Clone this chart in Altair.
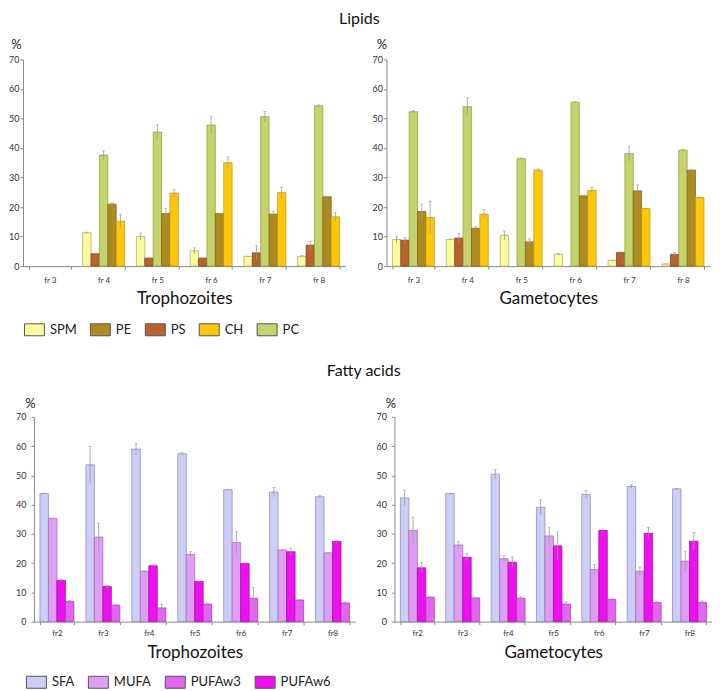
import altair as alt
import pandas as pd

# ---------------- Lipids ----------------
lip_fracs = ["fr 3", "fr 4", "fr 5", "fr 6", "fr 7", "fr 8"]
lip_bar_order = ["SPM", "PS", "PC", "PE", "CH"]
lip_legend_order = ["SPM", "PE", "PS", "CH", "PC"]
lip_fill = ["#fdfb9e", "#ad8b22", "#b8622e", "#fdc80c", "#c4d46a"]
lip_line = ["#a9a55a", "#7a6116", "#7e4018", "#c09400", "#8c9a3c"]

# Trophozoites (values, error)
tro_SPM = [0, 11.3, 10.0, 5.2, 3.3, 3.3]
tro_PS = [0, 4.2, 2.7, 2.7, 4.5, 7.1]
tro_PC = [0, 37.6, 45.4, 47.8, 50.6, 54.3]
tro_PE = [0, 21.0, 17.8, 17.8, 17.6, 23.5]
tro_CH = [0, 15.2, 24.7, 35.0, 24.9, 16.7]
tro_SPM_err = [0, 0.2, 1.2, 1.0, 0.1, 0.3]
tro_PS_err = [0, 0.1, 0.1, 0.1, 2.5, 1.3]
tro_PC_err = [0, 1.5, 2.5, 3.0, 1.8, 0.3]
tro_PE_err = [0, 0.5, 1.8, 0.1, 1.0, 0.1]
tro_CH_err = [0, 2.3, 1.2, 2.0, 1.8, 1.5]

# Gametocytes
gam_SPM = [9.0, 9.0, 10.4, 4.0, 1.9, 0.7]
gam_PS = [8.8, 9.5, 0, 0, 4.6, 4.0]
gam_PC = [52.3, 54.0, 36.4, 55.5, 38.1, 39.3]
gam_PE = [18.5, 12.8, 8.2, 23.8, 25.5, 32.5]
gam_CH = [16.5, 17.6, 32.5, 25.7, 19.5, 23.2]
gam_SPM_err = [1.0, 0.2, 1.5, 0.2, 0.1, 0.1]
gam_PS_err = [0.8, 1.5, 0, 0, 0.2, 0.6]
gam_PC_err = [0.4, 3.0, 0.2, 0.2, 2.5, 0.3]
gam_PE_err = [2.5, 0.5, 1.0, 0.2, 2.0, 0.1]
gam_CH_err = [5.5, 1.5, 0.4, 1.0, 0.1, 0.1]

# ---------------- Fatty acids ----------------
fa_fracs = ["fr2", "fr3", "fr4", "fr5", "fr6", "fr7", "fr8"]
fa_bar_order = ["SFA", "MUFA", "PUFAw6", "PUFAw3"]
fa_legend_order = ["SFA", "MUFA", "PUFAw3", "PUFAw6"]
fa_fill = ["#cdcdf7", "#dd9ff3", "#e366f0", "#ee10ee"]
fa_line = ["#8585b5", "#a264b5", "#a535b0", "#a000a0"]

tro_SFA = [43.8, 53.6, 59.0, 57.4, 45.1, 44.3, 42.7]
tro_MUFA = [35.3, 28.9, 17.2, 23.0, 27.1, 24.5, 23.5]
tro_W6 = [14.1, 12.0, 19.1, 13.7, 19.9, 23.9, 27.4]
tro_W3 = [6.9, 5.6, 4.7, 6.0, 8.0, 7.4, 6.4]
tro_SFA_err = [0.1, 6.3, 2.0, 0.5, 0.1, 1.6, 0.4]
tro_MUFA_err = [0.1, 4.8, 0.3, 1.0, 3.7, 0.2, 0.1]
tro_W6_err = [0.3, 0.4, 0.2, 0.1, 0.1, 1.2, 0.4]
tro_W3_err = [0.4, 0.2, 1.3, 0.1, 3.6, 0.1, 0.3]

gam_SFA = [42.3, 43.8, 50.4, 39.1, 43.5, 46.2, 45.4]
gam_MUFA = [31.2, 26.2, 21.5, 29.3, 17.8, 17.2, 20.7]
gam_W6 = [18.4, 22.0, 20.3, 25.9, 31.2, 30.2, 27.5]
gam_W3 = [8.3, 8.1, 8.0, 6.0, 7.6, 6.5, 6.6]
gam_SFA_err = [2.7, 0.1, 1.6, 2.5, 1.3, 0.6, 0.2]
gam_MUFA_err = [4.5, 1.2, 1.0, 3.0, 1.7, 1.5, 3.4]
gam_W6_err = [1.8, 1.3, 1.8, 4.8, 0.2, 2.0, 3.0]
gam_W3_err = [0.3, 0.2, 0.5, 0.7, 0.2, 0.3, 0.5]

y_ticks = [0, 10, 20, 30, 40, 50, 60, 70]

FONT = "Lato"


def make_df(fracs, series):
    rows = []
    for name, vals, errs in series:
        for f, v, e in zip(fracs, vals, errs):
            rows.append({"frac": f, "cls": name, "val": v,
                         "lo": max(v - e, 0), "hi": v + e, "err": e})
    return pd.DataFrame(rows)


def panel(df, fracs, bar_order, legend_order, fills, lines, w, h, xtitle,
          pct_x, pct_y, lab_pad, xlab_pad, xtitle_pad, legend_pos=None,
          pad_inner=0.22, shift=0):
    # 'shift' lets the plotting range start left of the view origin
    base = alt.Chart(df).properties(width=w, height=h)
    xaxis = alt.Axis(title=xtitle, tickBand="extent", labelAngle=0,
                     domainColor="#8a8a8a", tickColor="#8a8a8a",
                     tickSize=3, labelFontSize=8, labelColor="#333",
                     labelPadding=xlab_pad, titleFontSize=17,
                     titleFontWeight="normal", titleColor="#111",
                     titlePadding=xtitle_pad, labelFont=FONT, titleFont=FONT)
    if shift:
        xscale = alt.Scale(domain=fracs, paddingInner=pad_inner,
                           paddingOuter=pad_inner / 2, range=[-shift, w])
    else:
        xscale = alt.Scale(domain=fracs, paddingInner=pad_inner,
                           paddingOuter=pad_inner / 2)
    xenc = alt.X("frac:N", sort=fracs, scale=xscale, axis=xaxis)
    xoff = alt.XOffset("cls:N", scale=alt.Scale(domain=bar_order))
    yaxis = alt.Axis(values=y_ticks, grid=False, labelOverlap=False,
                     labelFlush=False, offset=shift,
                     domainColor="#8a8a8a", tickColor="#8a8a8a",
                     tickSize=3, labelFontSize=9, labelColor="#333",
                     labelPadding=lab_pad, title="%", titleAngle=0,
                     titleX=pct_x, titleY=pct_y, titleAlign="center",
                     titleBaseline="middle", titleFontSize=13,
                     titleFontWeight="normal", titleColor="#222",
                     labelFont=FONT, titleFont=FONT)
    yscale = alt.Scale(domain=[0, 70], nice=False)
    if legend_pos is None:
        leg = None
    else:
        leg = alt.Legend(title=None, orient="none", legendX=legend_pos[0],
                         legendY=legend_pos[1], direction="horizontal",
                         columns=len(legend_order), padding=0,
                         symbolType="M-1,-0.6L1,-0.6L1,0.6L-1,0.6Z",
                         symbolSize=400, symbolStrokeColor="#555",
                         symbolStrokeWidth=1, symbolOpacity=1,
                         labelFontSize=13, labelColor="#222", labelFont=FONT,
                         labelOffset=5, columnPadding=11)
    bars = base.transform_filter("datum.val > 0").mark_bar(strokeWidth=0.7).encode(
        x=xenc, xOffset=xoff,
        y=alt.Y("val:Q", scale=yscale, axis=yaxis),
        color=alt.Color("cls:N", scale=alt.Scale(domain=legend_order, range=fills),
                        legend=leg),
        stroke=alt.Stroke("cls:N", scale=alt.Scale(domain=legend_order, range=lines),
                          legend=None),
    )
    errs = base.transform_filter("datum.err > 0").mark_rule(
        color="#9a9a9a", strokeWidth=0.8).encode(
        x=xenc, xOffset=xoff,
        y=alt.Y("lo:Q", scale=yscale, axis=yaxis), y2="hi:Q")
    caps = base.transform_filter("datum.err > 0").mark_tick(
        color="#9a9a9a", thickness=0.8, size=3).encode(
        x=xenc, xOffset=xoff, y=alt.Y("hi:Q", scale=yscale, axis=yaxis))
    return alt.layer(bars, errs, caps)


lip_t = make_df(lip_fracs, [("SPM", tro_SPM, tro_SPM_err), ("PS", tro_PS, tro_PS_err),
                            ("PC", tro_PC, tro_PC_err), ("PE", tro_PE, tro_PE_err),
                            ("CH", tro_CH, tro_CH_err)])
lip_g = make_df(lip_fracs, [("SPM", gam_SPM, gam_SPM_err), ("PS", gam_PS, gam_PS_err),
                            ("PC", gam_PC, gam_PC_err), ("PE", gam_PE, gam_PE_err),
                            ("CH", gam_CH, gam_CH_err)])
fa_t = make_df(fa_fracs, [("SFA", tro_SFA, tro_SFA_err), ("MUFA", tro_MUFA, tro_MUFA_err),
                          ("PUFAw6", tro_W6, tro_W6_err), ("PUFAw3", tro_W3, tro_W3_err)])
fa_g = make_df(fa_fracs, [("SFA", gam_SFA, gam_SFA_err), ("MUFA", gam_MUFA, gam_MUFA_err),
                          ("PUFAw6", gam_W6, gam_W6_err), ("PUFAw3", gam_W3, gam_W3_err)])

p1 = panel(lip_t, lip_fracs, lip_bar_order, lip_legend_order, lip_fill, lip_line,
           312, 207, "Trophozoites", -7, -15, 1, 7, 6, legend_pos=(-10, 260), shift=11)
p2 = panel(lip_g, lip_fracs, lip_bar_order, lip_legend_order, lip_fill, lip_line,
           324, 207, "Gametocytes", -5, -15, 1, 7, 6)
p3 = panel(fa_t, fa_fracs, fa_bar_order, fa_legend_order, fa_fill, fa_line,
           322, 205, "Trophozoites", -4, -13, 5, 5, 7, legend_pos=(-8, 255),
           pad_inner=0.26)
p4 = panel(fa_g, fa_fracs, fa_bar_order, fa_legend_order, fa_fill, fa_line,
           318, 205, "Gametocytes", -4, -13, 5, 5, 7, pad_inner=0.26)

row1 = alt.hconcat(p1, p2, spacing=15, title=alt.TitleParams(
    "Lipids", anchor="middle", fontSize=16, fontWeight="normal", font=FONT,
    color="#111", offset=11)).resolve_legend(color="independent")
row2 = alt.hconcat(p3, p4, spacing=20, title=alt.TitleParams(
    "Fatty acids", anchor="middle", fontSize=16, fontWeight="normal", font=FONT,
    color="#111", offset=19)).resolve_legend(color="independent")

chart = alt.concat(
    row1, row2, columns=1, spacing=25, align="none",
    padding={"left": 0, "top": 3, "right": 0, "bottom": 0},
).resolve_scale(
    color="independent", stroke="independent", x="independent", xOffset="independent"
).configure(font=FONT).configure_view(strokeWidth=0, stroke="transparent")

chart.save("out.html", embed_options={"renderer": "svg", "actions": False})
